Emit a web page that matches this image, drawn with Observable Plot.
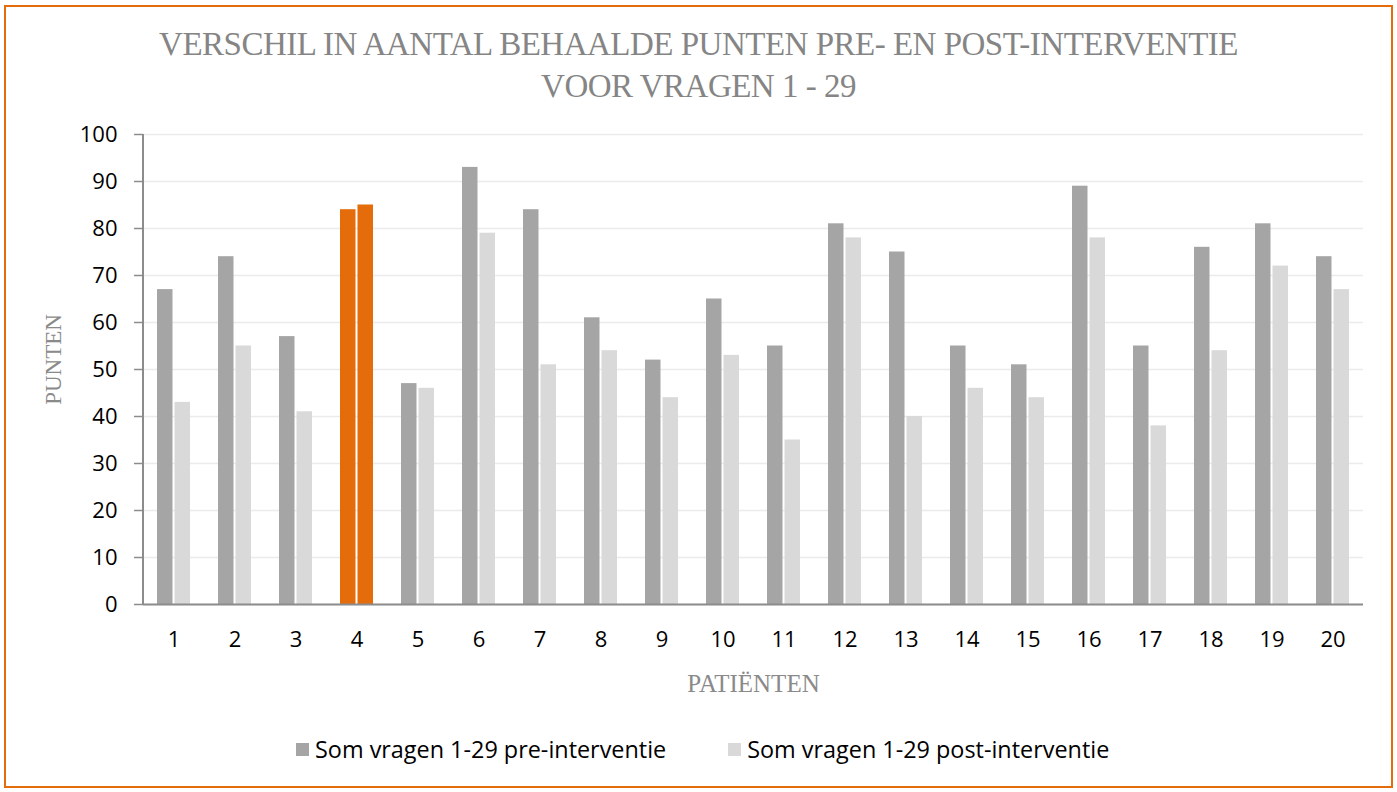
<!DOCTYPE html>
<html><head><meta charset="utf-8">
<script src="https://cdn.jsdelivr.net/npm/d3@7"></script>
<script src="https://cdn.jsdelivr.net/npm/@observablehq/plot@0.6"></script>
<style>
body{margin:0;background:#fff;width:1397px;height:792px;position:relative;overflow:hidden;font-family:"Open Sans",sans-serif}
#frame{position:absolute;left:4px;top:5px;width:1389px;height:783px;box-sizing:border-box;border:2px solid #e46c0a}
#title{position:absolute;left:0;top:23px;width:1397px;text-align:center;font-family:"Liberation Serif",serif;font-size:33px;line-height:42px;letter-spacing:-0.5px;color:#858585;text-transform:uppercase}
#chart{position:absolute;left:0;top:100px}
#legend{position:absolute;top:736px;left:296px;display:flex;font-size:23.4px;color:#000;line-height:26px}
.item{display:flex;align-items:center}
.item + .item{margin-left:62px}
.sw{width:13px;height:13px;margin-right:6px}
</style></head>
<body>
<div id="frame"></div>
<div id="title">Verschil in aantal behaalde punten pre- en post-interventie<br>voor vragen 1 - 29</div>
<div id="chart"></div>
<div id="legend"></div>
<script>
const patients = [1,2,3,4,5,6,7,8,9,10,11,12,13,14,15,16,17,18,19,20];
const preValues = [67,74,57,84,47,93,84,61,52,65,55,81,75,55,51,89,55,76,81,74];
const postValues = [43,55,41,85,46,79,51,54,44,53,35,78,40,46,44,78,38,54,72,67];
const seriesNames = ["Som vragen 1-29 pre-interventie", "Som vragen 1-29 post-interventie"];
const seriesColors = ["#a5a5a5", "#d9d9d9"];
const highlightPatient = 4;
const highlightColor = "#e46c0a";
const yTicks = [0,10,20,30,40,50,60,70,80,90,100];
const xLabel = "Patiënten";
const yLabel = "Punten";

const preRows = patients.map((p, i) => ({patient: p, value: preValues[i], series: seriesNames[0]}));
const postRows = patients.map((p, i) => ({patient: p, value: postValues[i], series: seriesNames[1]}));
const fillFor = k => d => d.patient === highlightPatient ? highlightColor : seriesColors[k];

const chart = Plot.plot({
  width: 1397, height: 600,
  marginLeft: 143, marginRight: 34, marginTop: 34, marginBottom: 96,
  style: {fontFamily: "'Open Sans', sans-serif", fontSize: "22px", color: "#000", background: "transparent"},
  x: {type: "band", domain: patients, paddingInner: 0.46, paddingOuter: 0.23, label: null},
  y: {domain: [0, 100], label: null},
  marks: [
    Plot.gridY(yTicks, {stroke: "#ebebeb", strokeOpacity: 1, strokeWidth: 1.5}),
    Plot.barY(preRows, {x: "patient", y: "value", fill: fillFor(0), insetRight: 17.5}),
    Plot.barY(postRows, {x: "patient", y: "value", fill: fillFor(1), insetLeft: 17.5}),
    Plot.ruleY([0], {stroke: "#8c8c8c", strokeWidth: 2}),
    Plot.axisY(yTicks, {tickSize: 9, tickPadding: 17, stroke: "#8c8c8c", strokeWidth: 1.5, fontSize: 22, fill: "#000", label: null}),
    Plot.axisX({tickSize: 0, tickPadding: 27, fontSize: 22, fill: "#000", label: null}),
    Plot.text([xLabel.toUpperCase()], {text: d => d, frameAnchor: "bottom", dy: 87, fontFamily: "'Liberation Serif', serif", fontSize: 25, fill: "#8a8a8a"}),
    Plot.text([yLabel.toUpperCase()], {text: d => d, frameAnchor: "left", textAnchor: "middle", lineAnchor: "bottom", dx: -83, dy: -10, rotate: -90, fontFamily: "'Liberation Serif', serif", fontSize: 23, fill: "#8a8a8a"})
  ]
});
const xs = chart.scale("x"), ys = chart.scale("y");
d3.select(chart).append("line")
  .attr("x1", xs.range[0]).attr("x2", xs.range[0])
  .attr("y1", ys.apply(0)).attr("y2", ys.apply(100))
  .attr("stroke", "#8c8c8c").attr("stroke-width", 2);
document.getElementById("chart").appendChild(chart);

const legend = d3.select("#legend");
seriesNames.forEach((name, k) => {
  const it = legend.append("div").attr("class", "item");
  it.append("div").attr("class", "sw").style("background", seriesColors[k]);
  it.append("span").text(name);
});
</script>
</body></html>
